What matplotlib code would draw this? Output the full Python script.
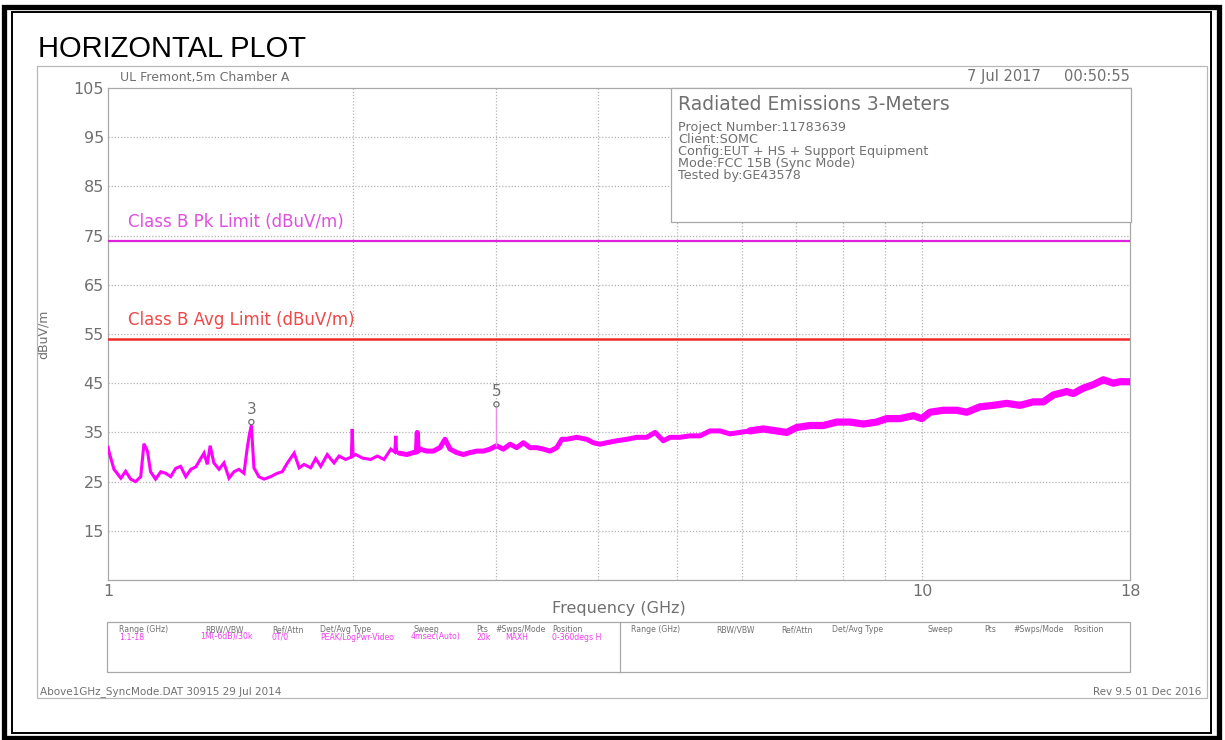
import matplotlib
matplotlib.use("Agg")
import matplotlib.pyplot as plt
from matplotlib.patches import Rectangle
from matplotlib.transforms import blended_transform_factory

# peak trace (GHz, dBuV/m)
freq_ghz = [1.000, 1.003, 1.017, 1.037, 1.051, 1.066, 1.081, 1.097, 1.107, 1.118,
            1.128, 1.144, 1.161, 1.177, 1.194, 1.211, 1.228, 1.246, 1.264, 1.282,
            1.300, 1.312, 1.324, 1.335, 1.349, 1.369, 1.388, 1.408, 1.428, 1.448,
            1.469, 1.483, 1.492, 1.500, 1.511, 1.532, 1.555, 1.584, 1.614, 1.637,
            1.661, 1.693, 1.717, 1.741, 1.774, 1.799, 1.825, 1.859, 1.895, 1.922,
            1.958, 1.990, 1.995, 2.000, 2.015, 2.053, 2.102, 2.142, 2.183, 2.225,
            2.250, 2.257, 2.262, 2.278, 2.328, 2.371, 2.392, 2.398, 2.404, 2.416,
            2.463, 2.509, 2.557, 2.594, 2.631, 2.681, 2.732, 2.784, 2.838, 2.891,
            2.946, 3.000, 3.059, 3.118, 3.177, 3.237, 3.299, 3.362, 3.426, 3.491,
            3.558, 3.609, 3.660, 3.765, 3.873, 3.946, 4.021, 4.098, 4.216, 4.337,
            4.461, 4.589, 4.698, 4.809, 4.901, 5.040, 5.185, 5.334, 5.487, 5.645,
            5.807, 5.973, 6.145, 6.380, 6.627, 6.817, 7.013, 7.282, 7.561, 7.853,
            8.154, 8.466, 8.793, 9.045, 9.393, 9.752, 9.988, 10.225, 10.617, 11.027,
            11.343, 11.778, 12.229, 12.701, 13.187, 13.692, 14.085, 14.489, 15.049, 15.333,
            15.775, 16.228, 16.692, 17.172, 17.501, 18.000]
level_dbuv = [32.0, 31.0, 27.5, 25.7, 27.1, 25.5, 25.0, 26.0, 32.7, 31.2,
              27.0, 25.5, 27.0, 26.7, 26.0, 27.7, 28.1, 26.0, 27.5, 28.0,
              29.7, 30.8, 28.5, 32.3, 28.8, 27.5, 28.8, 25.7, 27.0, 27.5,
              26.7, 32.0, 34.7, 36.4, 27.8, 26.0, 25.5, 26.0, 26.7, 27.0,
              28.8, 30.8, 27.8, 28.5, 27.8, 29.7, 28.1, 30.5, 28.8, 30.2,
              29.5, 30.0, 35.7, 30.2, 30.5, 29.8, 29.5, 30.2, 29.5, 31.6,
              31.0, 34.3, 31.0, 30.8, 30.5, 30.9, 31.0, 35.0, 31.2, 31.6,
              31.2, 31.2, 31.9, 33.6, 31.6, 30.9, 30.5, 30.9, 31.2, 31.2,
              31.6, 32.3, 31.6, 32.6, 31.9, 32.9, 31.9, 31.9, 31.6, 31.2,
              31.9, 33.6, 33.6, 34.0, 33.6, 32.9, 32.6, 32.9, 33.3, 33.6,
              34.0, 34.0, 35.0, 33.3, 34.0, 34.0, 34.3, 34.3, 35.3, 35.3,
              34.7, 35.0, 35.3, 35.7, 35.3, 35.0, 36.0, 36.4, 36.4, 37.1,
              37.1, 36.7, 37.1, 37.8, 37.8, 38.4, 37.8, 39.1, 39.5, 39.5,
              39.1, 40.2, 40.5, 40.9, 40.5, 41.2, 41.2, 42.6, 43.3, 42.9,
              44.0, 44.7, 45.7, 45.0, 45.3, 45.3]

marker_freq = [1.5, 3.0]
marker_level = [37.1, 40.7]
marker_name = ["3", "5"]

pk_limit = 74
avg_limit = 54
y_ticks = [15, 25, 35, 45, 55, 65, 75, 85, 95, 105]
x_ticks = [1, 10, 18]
grid_freqs = [2, 3, 4, 5, 6, 7, 8, 9, 10]

info_title = "Radiated Emissions 3-Meters"
info_lines = ["Project Number:11783639", "Client:SOMC",
              "Config:EUT + HS + Support Equipment",
              "Mode:FCC 15B (Sync Mode)", "Tested by:GE43578"]
table_heads = ["Range (GHz)", "RBW/VBW", "Ref/Attn", "Det/Avg Type",
               "Sweep", "Pts", "#Swps/Mode", "Position"]
table_vals = ["1:1-18", "1M(-6dB)/30k", "0T/0", "PEAK/LogPwr-Video",
              "4msec(Auto)", "20k", "MAXH", "0-360degs H"]

GRAY = "#707070"
W, H = 1225, 740

fig = plt.figure(figsize=(12.25, 7.4), dpi=100)

# main plot area
ax = fig.add_axes([108 / W, 1 - 580 / H, 1022 / W, 492 / H], zorder=2)
ax.set_xscale("log")
ax.set_xlim(1, 18)
ax.set_ylim(5, 105)
ax.set_xticks(x_ticks)
ax.set_xticklabels([str(t) for t in x_ticks])
ax.minorticks_off()
ax.set_yticks(y_ticks)
ax.tick_params(length=0, labelsize=11.5, labelcolor=GRAY, pad=3)
ax.tick_params(axis="x", pad=3)
for s in ax.spines.values():
    s.set_color("#a8a8a8")
    s.set_linewidth(0.9)

for y in y_ticks[:-1]:
    ax.axhline(y, color="#b4b4b4", lw=0.9, ls=(0, (1, 1.5)), zorder=1)
for f in grid_freqs:
    ax.axvline(f, color="#b4b4b4", lw=0.9, ls=(0, (1, 1.5)), zorder=1)

ax.axhline(pk_limit, color="#dd22dd", lw=1.6, zorder=3)
ax.axhline(avg_limit, color="#ee2a2a", lw=1.8, zorder=3)
tr = blended_transform_factory(ax.transAxes, ax.transData)
ax.text(0.0196, pk_limit + 3.8, "Class B Pk Limit (dBuV/m)", transform=tr,
        color="#e050e0", fontsize=12, va="center", ha="left")
ax.text(0.0196, avg_limit + 3.8, "Class B Avg Limit (dBuV/m)", transform=tr,
        color="#f04848", fontsize=12, va="center", ha="left")

# trace gets a wider noise band towards the top of the band
a = freq_ghz.index(2.278)
b = freq_ghz.index(6.145)
ax.plot(freq_ghz[:a + 1], level_dbuv[:a + 1], color="#ff00ff", lw=2.2,
        zorder=4, solid_joinstyle="miter")
ax.plot(freq_ghz[a:b + 1], level_dbuv[a:b + 1], color="#ff00ff", lw=3.6,
        zorder=4, solid_joinstyle="round", solid_capstyle="round")
ax.plot(freq_ghz[b:], level_dbuv[b:], color="#ff00ff", lw=5.2,
        zorder=4, solid_joinstyle="round", solid_capstyle="round")

# markers
idx5 = freq_ghz.index(marker_freq[1])
ax.vlines(marker_freq[1], level_dbuv[idx5], marker_level[1] - 0.5,
          color="#e890e8", lw=1.0, zorder=4)
ax.scatter(marker_freq, marker_level, s=14, facecolors="none",
           edgecolors=GRAY, linewidths=0.9, zorder=5)
for f, lv, name in zip(marker_freq, marker_level, marker_name):
    ax.annotate(name, (f, lv), xytext=(0, 4), textcoords="offset points",
                ha="center", va="bottom", fontsize=11, color=GRAY)

ax.set_ylabel("dBuV/m", fontsize=9, color=GRAY, labelpad=17)
ax.set_xlabel("Frequency (GHz)", fontsize=11.5, color=GRAY, labelpad=1)

# overlay in pixel coordinates for the page furniture
bg = fig.add_axes([0, 0, 1, 1], zorder=3)
bg.set_xlim(0, W)
bg.set_ylim(H, 0)
bg.axis("off")
bg.patch.set_alpha(0)

bg.add_patch(Rectangle((4, 7), 1215, 731, fill=False, ec="black", lw=3.8))
bg.add_patch(Rectangle((12, 12), 1199, 721, fill=False, ec="black", lw=1.4))
bg.add_patch(Rectangle((37, 66), 1170, 632, fill=False, ec="#b8b8b8", lw=0.9))

bg.text(38, 49, "HORIZONTAL PLOT", fontsize=21, family="Liberation Sans",
        va="center", ha="left", color="black")
bg.text(120, 78, "UL Fremont,5m Chamber A", fontsize=9, color=GRAY,
        va="center", ha="left")
bg.text(1130, 77, "7 Jul 2017     00:50:55", fontsize=10.5, color=GRAY,
        va="center", ha="right")

# info box
bg.add_patch(Rectangle((671, 88), 460, 134, fc="white", ec="#a8a8a8", lw=0.9))
bg.text(678, 104, info_title, fontsize=13.5, color=GRAY, va="center", ha="left")
for i, line in enumerate(info_lines):
    bg.text(678, 128 + i * 11.8, line, fontsize=9.2, color=GRAY,
            va="center", ha="left")

# settings table
bg.add_patch(Rectangle((107, 622), 1023, 50, fill=False, ec="#a8a8a8", lw=0.9))
bg.plot([620, 620], [622, 672], color="#a8a8a8", lw=0.9)
head_x = [119, 205, 272, 320, 414, 476, 495, 552]
val_x = [119, 200, 272, 320, 411, 476, 505, 552]
head_x2 = [631, 716, 781, 832, 927, 984, 1013, 1073]
for hx, hx2, vx, h, v in zip(head_x, head_x2, val_x, table_heads, table_vals):
    bg.text(hx, 630, h, fontsize=5.6, color=GRAY, va="center", ha="left")
    bg.text(hx2, 630, h, fontsize=5.6, color=GRAY, va="center", ha="left")
    bg.text(vx, 637, v, fontsize=5.6, color="#ee40ee", va="center", ha="left")

bg.text(40, 692, "Above1GHz_SyncMode.DAT 30915 29 Jul 2014", fontsize=7.5,
        color=GRAY, va="center", ha="left")
bg.text(1201, 692, "Rev 9.5 01 Dec 2016", fontsize=7.5, color=GRAY,
        va="center", ha="right")

fig.savefig("out.png", dpi=100)
